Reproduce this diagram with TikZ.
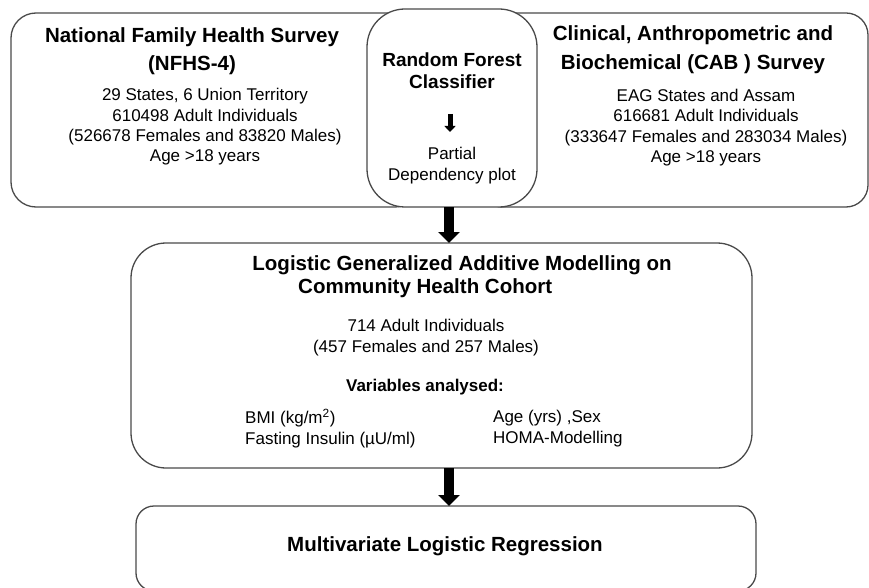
\documentclass[tikz,border=0pt]{standalone}
\usepackage{fontspec}
\setmainfont{Liberation Sans}
\usetikzlibrary{arrows.meta}
\definecolor{boxline}{HTML}{4A4A4A}
\tikzset{
  box/.style={draw=boxline, line width=1.3pt, fill=white, rectangle, inner sep=0pt, outer sep=0pt},
  titletext/.style={inner sep=0pt, align=center, font=\fontsize{20.5pt}{28.5pt}\selectfont\bfseries},
  bodytext/.style={inner sep=0pt, align=center, font=\fontsize{17pt}{20.3pt}\selectfont},
  bigarrow/.style={line width=10pt, -{Triangle[width=21pt,length=11pt]}},
  smallarrow/.style={line width=5pt, -{Triangle[width=11pt,length=6pt]}}
}
\begin{document}
\begin{tikzpicture}[x=1pt, y=-1pt]
\useasboundingbox (0,0) rectangle (869,588);
% top row boxes
\node[box, minimum width=409pt, minimum height=194pt, rounded corners=25pt] (L) at (215.5,110) {};
\node[box, minimum width=388pt, minimum height=194pt, rounded corners=22pt] (R) at (674,110) {};
\node[box, minimum width=170pt, minimum height=198pt, rounded corners=38pt] (C) at (452,108) {};
% middle and bottom boxes
\node[box, minimum width=621pt, minimum height=225pt, rounded corners=35pt] (M) at (441.5,355.5) {};
\node[box, minimum width=620pt, minimum height=85pt, rounded corners=18pt] (B) at (446,548.5) {};

% left box text
\node[titletext] (Lt) at (192,51) {National Family Health Survey\\(NFHS-4)};
\node[bodytext] (Lb) at (205,127) {29 States, 6 Union Territory\\610498 Adult Individuals\\(526678 Females and 83820 Males)\\Age >18 years};

% right box text
\node[titletext] (Rt) at (693,49.5) {Clinical, Anthropometric and\\Biochemical (CAB ) Survey};
\node[bodytext] (Rb) at (706,127.5) {EAG States and Assam\\616681 Adult Individuals\\(333647 Females and 283034 Males)\\Age >18 years};

% centre box text
\node[titletext, font=\fontsize{19pt}{22pt}\selectfont\bfseries] (Ct) at (452,71) {Random Forest\\Classifier};
\node[bodytext, font=\fontsize{17pt}{21pt}\selectfont] (Cb) at (452,165.5) {Partial\\Dependency plot};
\coordinate (sa1) at (450,114);
\coordinate (sa2) at (450,132);
\draw[smallarrow] (sa1) -- (sa2);

% middle box text
\node[titletext] (Mt1) at (462,265) {Logistic Generalized Additive Modelling on};
\node[titletext, anchor=west] (Mt2) at (298,288) {Community Health Cohort};
\node[bodytext, font=\fontsize{17pt}{21pt}\selectfont] (Mb) at (426,337.5) {714 Adult Individuals\\(457 Females and 257 Males)};
\node[bodytext, font=\fontsize{17pt}{20pt}\selectfont\bfseries] (Mv) at (425,387) {Variables analysed:};
\node[bodytext, align=left, anchor=west, font=\fontsize{17pt}{21pt}\selectfont] (Mv1) at (245,428.5) {BMI (kg/m\textsuperscript{2})\\Fasting Insulin (µU/ml)};
\node[bodytext, align=left, anchor=west, font=\fontsize{17pt}{21pt}\selectfont] (Mv2) at (493,428.5) {Age (yrs) ,Sex\\HOMA-Modelling};

% bottom box text
\node[titletext] (Bt) at (445,546) {Multivariate Logistic Regression};

% arrows
\draw[bigarrow] (C.south -| 449,0) -- (M.north -| 449,0);
\draw[bigarrow] (M.south -| 449,0) -- (B.north -| 449,0);
\end{tikzpicture}
\end{document}
